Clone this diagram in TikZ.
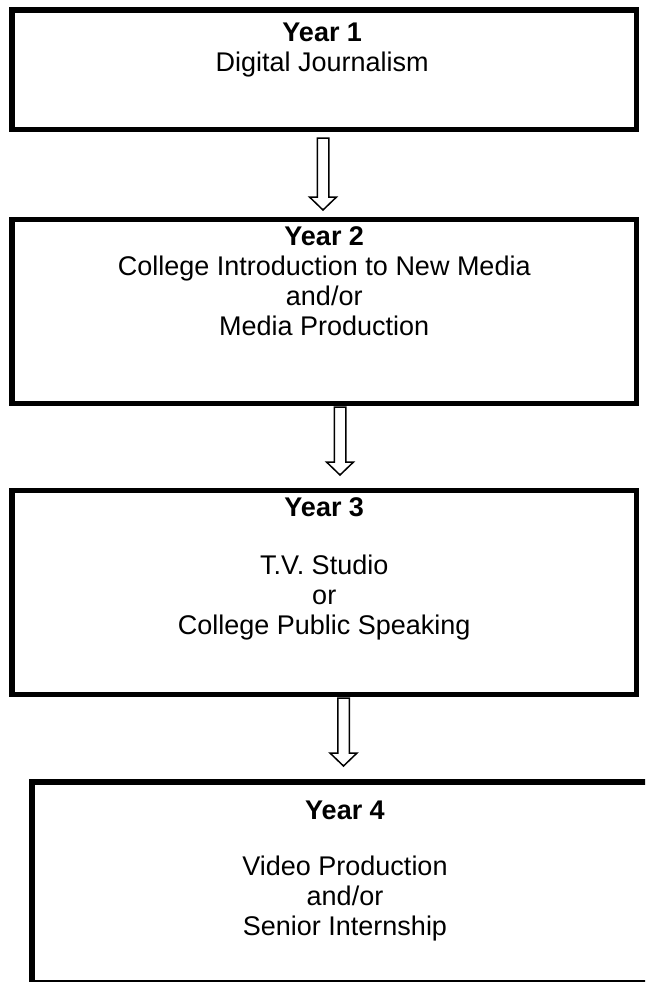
\documentclass[tikz,border=0pt]{standalone}
\usepackage{fontspec}
\setmainfont{Liberation Sans}
\usetikzlibrary{calc}
\tikzset{
  yearbox/.style={draw=black, line width=5.5pt, rectangle, inner sep=0pt, outer sep=0pt},
  yeartext/.style={align=center, anchor=north, inner sep=0pt, font=\fontsize{27}{30}\selectfont},
  blockarrow/.style={draw=black, fill=white, line width=1.5pt, line join=miter},
}
\newcommand{\hollowdown}[6]{%
  \coordinate (#6top) at ($(#1.south)+(#3,#4)$);
  \coordinate (#6tip) at ($(#6top |- #2.north)+(0,#5)$);
  \coordinate (#6hs) at ($(#6tip)+(0,-13)$);
  \draw[blockarrow] ($(#6top)+(-5.75,0)$) -- ($(#6hs)+(-5.75,0)$) -- ($(#6hs)+(-13.5,0)$)
    -- (#6tip) -- ($(#6hs)+(13.5,0)$) -- ($(#6hs)+(5.75,0)$) -- ($(#6top)+(5.75,0)$) -- cycle;
}
\begin{document}
\begin{tikzpicture}[x=1pt,y=-1pt]
\useasboundingbox (0,0) rectangle (645,982);
\clip (0,0) rectangle (645,982);
\fill[white] (0,0) rectangle (645,982);
% boxes
\node[yearbox, minimum width=624.5pt, minimum height=119.5pt] (b1) at (324.25,69.75) {};
\node[yearbox, minimum width=624.5pt, minimum height=184pt] (b2) at (324.25,311.5) {};
\node[yearbox, minimum width=624.5pt, minimum height=204pt] (b3) at (324.25,592.5) {};
\node[yearbox, minimum width=636pt, minimum height=201pt] (b4) at (350,882.5) {};
% texts
\node[yeartext] (t1) at ($(b1.north)+(-2,13)$) {\textbf{Year 1}\\Digital Journalism};
\node[yeartext] (t2) at ($(b2.north)+(0,7)$) {\textbf{Year 2}\\College Introduction to New Media\\and/or\\Media Production};
\node[yeartext] (t3) at ($(b3.north)+(0,7)$) {\textbf{Year 3}\\[28pt]T.V. Studio\\or\\College Public Speaking};
\node[yeartext] (t4) at ($(b4.north)+(-5,19)$) {\textbf{Year 4}\\[26pt]Video Production\\and/or\\Senior Internship};
% arrows
\hollowdown{b1}{b2}{-1.25}{8.5}{-9.5}{a1}
\hollowdown{b2}{b3}{15.75}{3.5}{-15.5}{a2}
\hollowdown{b3}{b4}{19.25}{3.5}{-16}{a3}
\end{tikzpicture}
\end{document}
